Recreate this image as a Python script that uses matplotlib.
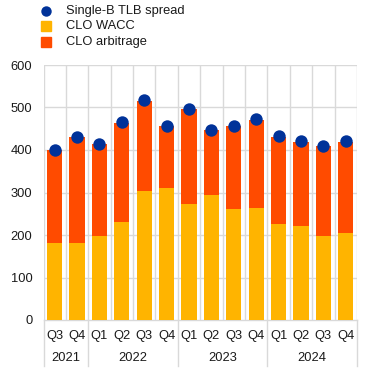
import matplotlib
matplotlib.use("Agg")
import matplotlib.pyplot as plt
from matplotlib.lines import Line2D
from matplotlib.patches import Rectangle

plt.rcParams['font.family'] = ['Liberation Sans', 'DejaVu Sans']

quarters = ["Q3", "Q4", "Q1", "Q2", "Q3", "Q4", "Q1", "Q2", "Q3", "Q4", "Q1", "Q2", "Q3", "Q4"]
years = ["2021", "2022", "2023", "2024"]
year_counts = [2, 4, 4, 4]
wacc = [181, 181, 198, 231, 303, 311, 273, 294, 261, 264, 226, 221, 198, 205]
arbitrage = [219, 249, 215, 232, 212, 145, 223, 153, 195, 206, 204, 198, 211, 215]
tlb_spread = [401, 431, 415, 465, 517, 457, 497, 448, 457, 472, 432, 420, 410, 420]

c_blue = "#003299"
c_yellow = "#FFB400"
c_orange = "#FF4B00"
c_grid = "#D9D9D9"

fig = plt.figure(figsize=(3.72, 3.73), dpi=100)
ax = fig.add_axes([43.5/372, 1-320/373, (357-43.5)/372, (320-65)/373])

n = len(quarters)
x = [i + 0.5 for i in range(n)]
ax.bar(x, wacc, width=0.68, color=c_yellow, zorder=2)
ax.bar(x, arbitrage, bottom=wacc, width=0.68, color=c_orange, zorder=2)
ax.scatter(x, tlb_spread, s=80, color=c_blue, zorder=3, linewidths=0)

ax.set_xlim(0, n)
ax.set_ylim(0, 600)
ax.set_yticks(range(0, 601, 100))
for yv in range(100, 601, 100):
    ax.axhline(yv, color=c_grid, lw=1, zorder=1)
for xv in range(0, n + 1):
    ax.axvline(xv, color=c_grid, lw=1, zorder=1)
for s in ax.spines.values():
    s.set_visible(False)
ax.axhline(0, color=c_grid, lw=1, zorder=1, clip_on=False)
ax.tick_params(axis='y', length=0, pad=8, labelsize=9.3, colors='#1a1a1a')
ax.set_xticks(x)
ax.set_xticklabels(quarters)
ax.tick_params(axis='x', length=0, pad=7, labelsize=9.3, colors='#1a1a1a')

# year labels and separators
trans = ax.get_xaxis_transform()
pos = 0
bounds = [0]
for yr, cnt in zip(years, year_counts):
    ax.text(pos + cnt / 2, -38/255, yr, transform=trans, ha='center', va='center',
            fontsize=9.3, color='#1a1a1a')
    pos += cnt
    bounds.append(pos)
for b in bounds:
    ax.add_line(Line2D([b, b], [0, -46/255], transform=trans, color=c_grid, lw=1, clip_on=False))

# legend
items = [("Single-B TLB spread", 'dot', c_blue), ("CLO WACC", 'sq', c_yellow), ("CLO arbitrage", 'sq', c_orange)]
ys = [11, 26, 42]
for (lab, kind, col), yy in zip(items, ys):
    fy = 1 - yy / 373
    if kind == 'dot':
        fig.add_artist(Line2D([45.5/372], [fy], marker='o', markersize=7.5, color=col, markeredgewidth=0,
                              transform=fig.transFigure))
    else:
        fig.add_artist(Rectangle((40.5/372, fy - 5/373), 10/372, 10/373, color=col,
                                 transform=fig.transFigure))
    fig.text(66/372, fy, lab, fontsize=9.3, va='center', ha='left', color='#1a1a1a')

fig.savefig("out.png", dpi=100)
